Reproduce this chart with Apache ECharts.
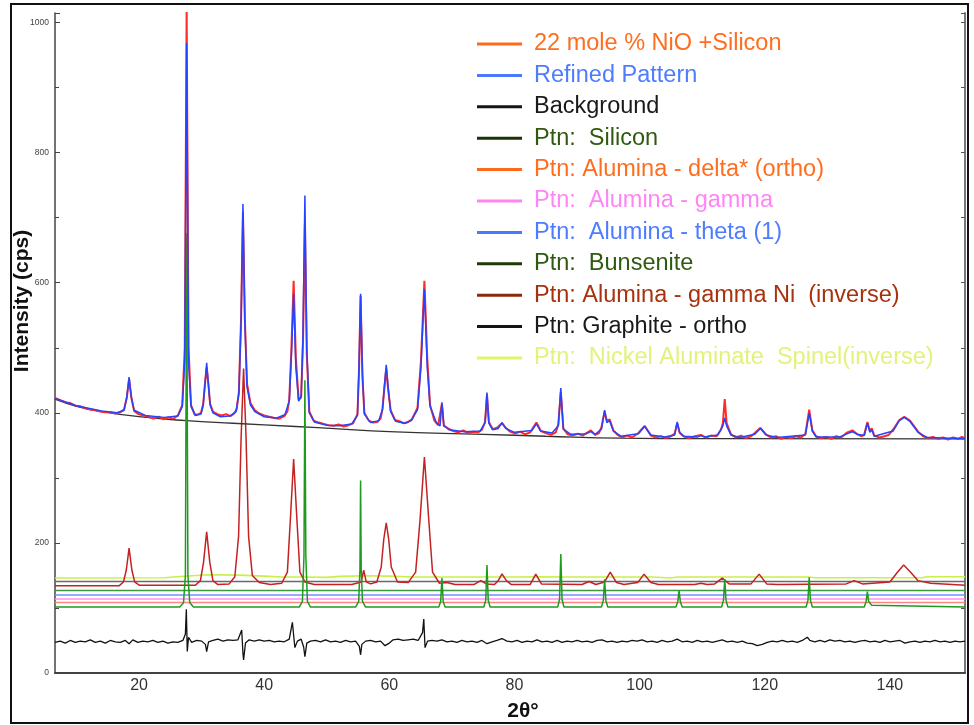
<!DOCTYPE html>
<html>
<head>
<meta charset="utf-8">
<script src="https://cdn.jsdelivr.net/npm/echarts@6/dist/echarts.min.js"></script>
<style>html,body{margin:0;padding:0;background:#fff}#c{width:974px;height:725px}</style>
</head>
<body>
<div id="c"></div>
<script>
// ---- data (2θ in degrees, intensity in cps) ----
const observed = [[6.56,423],[7.5,419],[8.3,416],[9,415],[9.8,411],[10.6,410],[11.4,407],[12.2,405],[13,404],[13.8,402],[14.6,401],[15.4,401],[16.2,399],[17,401],[17.6,405],[18.05,424],[18.4,452],[18.75,424],[19.2,403],[19.9,398],[20.7,396],[21.5,394],[22.3,391],[23.1,394],[23.9,390],[24.7,393],[25.5,391],[26.2,396],[26.9,412],[27.3,500],[27.6,1020],[27.9,500],[28.3,412],[28.9,397],[29.5,398],[29.9,400],[30.25,414],[30.5,442],[30.8,470],[31.1,442],[31.35,414],[31.8,402],[32.5,398],[33.2,396],[33.9,398],[34.6,395],[35.2,399],[35.6,406],[35.95,432],[36.3,545],[36.6,709],[36.9,545],[37.25,445],[37.8,415],[38.5,404],[39.2,399],[40,396],[40.8,394],[41.6,392],[42.4,391],[43.2,395],[43.7,402],[44.0,420],[44.35,500],[44.7,603],[45.05,485],[45.5,420],[45.9,424],[46.2,510],[46.5,690],[46.8,490],[47.2,402],[47.9,388],[48.7,385],[49.5,383],[50.3,381],[51.1,380],[51.9,382],[52.7,379],[53.5,381],[54.2,384],[54.9,398],[55.15,465],[55.4,580],[55.7,455],[56,400],[56.7,388],[57.4,385],[58.1,386],[58.6,391],[58.9,406],[59.2,438],[59.5,468],[59.8,436],[60.2,404],[60.9,389],[61.6,387],[62.3,384],[63.0,386],[63.6,390],[64.5,408],[65.05,480],[65.6,603],[66.05,485],[66.5,412],[67.2,388],[67.8,381],[68.1,382],[68.4,414],[68.7,380],[69.4,376],[70.2,372],[71,370],[71.8,373],[72.6,369],[73.4,371],[74.2,370],[74.8,374],[75.3,386],[75.6,428],[75.9,386],[76.5,375],[77.2,377],[78.0,384],[78.6,377],[79.3,371],[80.1,368],[80.9,371],[81.7,367],[82.5,370],[83.5,385],[84.2,372],[85,369],[85.8,366],[86.6,370],[87.0,382],[87.4,432],[87.8,376],[88.5,367],[89.3,365],[90.1,368],[90.9,365],[91.5,369],[92.2,373],[92.9,366],[93.5,369],[93.9,378],[94.4,402],[94.75,388],[95.2,390],[95.8,373],[96.5,366],[97.2,362],[98,365],[98.8,362],[99.8,369],[100.8,380],[101.8,365],[102.6,362],[103.4,364],[104.2,361],[105,364],[105.6,368],[106,384],[106.4,369],[107.2,363],[108,361],[108.8,364],[109.8,366],[110.6,362],[111.4,365],[112.3,364],[113.0,374],[113.3,384],[113.6,421],[113.9,384],[114.6,367],[115.4,362],[116.2,365],[117,361],[117.8,364],[118.4,369],[119.3,377],[120.2,367],[121,362],[121.8,364],[122.6,360],[123.4,363],[124.2,361],[125,364],[125.8,362],[126.5,368],[127.1,405],[127.6,373],[128.2,364],[129,361],[129.8,363],[130.6,360],[131.4,364],[132.2,362],[133.2,370],[134.0,373],[134.8,367],[135.5,364],[135.9,367],[136.4,386],[136.8,372],[137.1,376],[137.5,365],[138.3,362],[139.1,364],[139.8,366],[140.5,374],[141.5,389],[142.3,394],[143.2,388],[144.5,371],[145.3,364],[146.1,361],[146.9,363],[147.7,360],[148.5,362],[149.3,359],[150.1,362],[150.9,360],[151.5,363],[152,361]];

const refined = [[6.56,422],[10,411],[14,403],[16.5,400],[17.6,404],[18.05,425],[18.4,455],[18.75,425],[19.2,404],[21,396],[24,393],[26.2,395],[26.9,410],[27.3,480],[27.6,968],[27.9,480],[28.3,410],[29,396],[29.9,398],[30.25,412],[30.5,440],[30.8,477],[31.1,440],[31.35,412],[31.8,400],[33,394],[34.5,395],[35.5,402],[35.95,430],[36.3,540],[36.6,721],[36.9,540],[37.25,440],[37.8,412],[38.5,402],[40,394],[42,392],[43.3,397],[44.0,418],[44.35,490],[44.7,583],[45.05,470],[45.5,418],[45.9,425],[46.2,520],[46.5,734],[46.8,500],[47.2,400],[48,386],[50,381],[52,380],[54,383],[54.9,396],[55.15,470],[55.4,583],[55.7,460],[56,398],[57,385],[58.3,388],[58.9,405],[59.2,440],[59.5,474],[59.8,440],[60.2,402],[61,387],[62.5,384],[63.5,388],[64.5,405],[65.05,470],[65.6,590],[66.05,470],[66.5,410],[67.5,385],[68.1,380],[68.4,416],[68.7,381],[69.5,374],[72,371],[74.5,372],[75.3,385],[75.6,431],[75.9,384],[76.5,374],[77.4,376],[78.0,385],[78.6,376],[80,370],[82.8,373],[83.5,383],[84.2,372],[86,369],[87.0,380],[87.4,438],[87.8,375],[89,367],[91.5,368],[92.2,371],[92.9,367],[93.9,375],[94.4,404],[94.75,385],[95.2,388],[95.8,372],[97,364],[99.8,368],[100.8,379],[101.8,366],[104,363],[105.6,366],[106,386],[106.4,370],[107,364],[109.3,363],[109.8,365],[110.3,363],[112.5,366],[113.3,380],[113.6,392],[113.9,380],[114.6,366],[116,362],[118.4,367],[119.3,376],[120.2,366],[122,362],[126.5,366],[127.1,400],[127.6,372],[128.2,363],[132,363],[133.2,368],[134.0,371],[134.8,367],[135.9,365],[136.4,384],[136.8,370],[137.1,374],[137.5,364],[140.5,372],[141.5,388],[142.3,393],[143.2,387],[144.5,370],[146,362],[152,360]];

const background = [[6.56,421],[10,410],[14,402],[20,394],[27.6,388],[35,384],[45,379],[50.6,376],[60,371],[75,367],[85,364],[97,361],[110,360.3],[152,359.8]];

const difference = [[6.56,47],[7.4,49],[8.2,46],[9,50],[9.8,47],[10.6,49],[11.4,48],[12.2,51],[13,47],[13.8,49],[14.6,46],[15.4,50],[16.2,48],[17,47],[17.8,50],[18.4,45],[19,51],[19.8,47],[20.6,49],[21.4,48],[22.2,50],[23,47],[23.8,49],[24.6,46],[25.4,48],[26.2,47],[27.0,50],[27.4,60],[27.55,98],[27.7,33],[27.9,55],[28.4,47],[29.2,50],[30,49],[30.6,44],[30.8,33],[31.1,48],[31.8,50],[32.6,52],[33.4,49],[34.2,51],[35,50],[35.8,51],[36.4,66],[36.6,30],[36.7,20],[37,46],[37.6,51],[38.4,49],[39.2,51],[40,49],[40.8,50],[41.6,48],[42.4,49],[43.2,48],[44.0,52],[44.5,78],[44.7,58],[44.9,39],[45.3,49],[45.9,52],[46.3,40],[46.5,25],[46.8,46],[47.4,49],[48.2,50],[49,48],[49.8,51],[50.6,48],[51.4,49],[52.2,47],[53,50],[53.8,48],[54.6,49],[55.2,41],[55.4,28],[55.6,44],[56.2,49],[57,50],[57.8,48],[58.6,49],[59.3,42],[59.6,39],[60,46],[60.6,51],[61.4,52],[62.2,50],[63,51],[63.8,52],[64.6,50],[65.3,62],[65.5,83],[65.7,39],[66.1,49],[66.8,50],[67.6,49],[68.4,51],[69.2,48],[70,49],[70.8,47],[71.6,50],[72.4,48],[73.2,49],[74,47],[74.8,50],[75.6,45],[76.4,48],[77.2,50],[78,53],[78.8,49],[79.6,48],[80.4,50],[81.2,47],[82,49],[82.8,48],[83.6,51],[84.4,48],[85.2,49],[86,47],[86.8,50],[87.6,47],[88.4,49],[89.2,48],[90,50],[90.8,48],[91.6,49],[92.4,47],[93.2,50],[94,51],[94.8,48],[95.6,49],[96.4,47],[97.2,49],[98,48],[98.8,50],[99.6,49],[100.4,51],[101.2,48],[102,49],[102.8,47],[103.6,50],[104.4,48],[105.2,49],[106,52],[106.8,48],[107.6,49],[108.4,47],[109.2,50],[110,48],[110.8,49],[111.6,47],[112.4,49],[113.2,51],[114,48],[114.8,49],[115.6,47],[116.4,49],[117.2,46],[118,45],[118.8,42],[119.6,44],[120.4,47],[121.2,49],[122,48],[122.8,50],[123.6,48],[124.4,49],[125.2,47],[126,50],[126.8,55],[127.2,50],[128,48],[128.8,50],[129.6,48],[130.4,51],[131.2,49],[132,50],[132.8,48],[133.6,49],[134.4,47],[135.2,49],[136,50],[136.8,48],[137.6,49],[138.4,47],[139.2,50],[140,48],[140.8,49],[141.6,50],[142.4,46],[143.2,48],[144,49],[144.8,47],[145.6,49],[146.4,48],[147.2,50],[148,48],[148.8,49],[149.6,47],[150.4,49],[151.2,48],[152,49]];

const silicon = [[6.56,101.4],[26.5,101.4],[27.1,108],[27.4,150],[27.6,676],[27.8,150],[28.1,108],[28.7,101.4],[45.6,101.4],[46.1,110],[46.35,180],[46.5,450],[46.65,180],[46.9,110],[47.4,101.4],[54.6,101.4],[55.1,110],[55.3,160],[55.4,296],[55.5,160],[55.7,110],[56.2,101.4],[67.9,101.4],[68.2,110],[68.4,146],[68.6,110],[68.9,101.4],[75.1,101.4],[75.4,112],[75.6,166],[75.8,112],[76.1,101.4],[86.9,101.4],[87.2,113],[87.4,183],[87.6,113],[87.9,101.4],[93.9,101.4],[94.2,112],[94.4,144],[94.6,112],[94.9,101.4],[105.8,101.4],[106.1,110],[106.3,127],[106.5,110],[106.8,101.4],[113.1,101.4],[113.4,112],[113.6,144],[113.8,112],[114.1,101.4],[126.6,101.4],[126.9,112],[127.1,147],[127.3,112],[127.6,101.4],[135.9,101.4],[136.2,110],[136.4,125],[136.6,110],[136.8,112],[137.1,104],[137.4,101.4],[152,101.4]];
const aluminaDelta = [[6.56,108.5],[152,108.5]];
const aluminaGamma = [[6.56,113.7],[152,113.7]];
const aluminaTheta = [[6.56,120],[152,120]];
const bunsenite = [[6.56,127],[152,127]];
const aluminaGammaNi = [[6.56,134],[16.8,134],[17.5,140],[17.95,158],[18.4,192],[18.85,158],[19.3,140],[20,135],[29,135],[29.8,142],[30.3,170],[30.8,217],[31.3,170],[31.8,142],[32.6,136],[34.4,137],[35.3,148],[35.9,210],[36.3,360],[36.7,468],[37.1,360],[37.5,210],[38.1,150],[39.2,139],[41,136],[42.8,138],[43.7,155],[44.2,240],[44.7,329],[45.2,240],[45.7,155],[46.5,140],[48,136],[54,136],[55.5,140],[55.9,158],[56.3,140],[57,137],[58,140],[58.7,163],[59.1,205],[59.5,231],[59.9,205],[60.3,163],[61.3,140],[63,139],[64.2,155],[64.9,235],[65.6,332],[66.3,235],[66.9,155],[68,138],[69.2,139],[70.5,136],[73.5,136],[74.6,142],[75.5,137],[76.8,136],[77.4,142],[78,152.5],[78.7,142],[79.5,136],[82.5,136],[83.4,152],[84.3,137],[90.8,136],[91.9,140.7],[93,136],[94.4,140],[95.3,155],[96.3,139],[97.5,136],[99.7,139],[100.7,152],[101.8,139],[103,136],[108.8,136],[109.8,138],[110.8,136],[112,137],[113.2,146],[114.3,137],[117.8,137],[119.1,152],[120.3,137],[122,136],[133,137],[134.3,142],[135.6,137],[140,140],[141.2,155],[142.2,166],[143.2,156],[144.5,142],[146.5,138],[152,135]];
const graphite = [[6.56,140.7],[152,140.7]];
const spinel = [[6.56,146],[24,146.5],[26,148],[31,151],[36,150.5],[40,149],[43,147.5],[46,147.5],[50,147],[52,148.5],[56,149.5],[60,149],[64,147.5],[80,147.5],[84,148],[88,147.5],[102,147.5],[105,146],[106,147.5],[127,147.5],[128,146.5],[145,146.5],[146,148],[152,148]];

const legendNames = ['22 mole % NiO +Silicon','Refined Pattern','Background','Ptn:  Silicon','Ptn: Alumina - delta* (ortho)','Ptn:  Alumina - gamma','Ptn:  Alumina - theta (1)','Ptn:  Bunsenite','Ptn: Alumina - gamma Ni  (inverse)','Ptn: Graphite - ortho','Ptn:  Nickel Aluminate  Spinel(inverse)'];
const legendIconColors = ['#ff6a1a','#4a78ff','#151515','#1b3208','#ff6a1a','#ff85f0','#4a78ff','#1b3a08','#8a2a0a','#151515','#e2f56a'];
const legendTextColors = ['#ff6d1f','#4d7cff','#1a1a1a','#2f5a0f','#ff6d1f','#ff85f5','#4d7cff','#2f5a0f','#a8320e','#1a1a1a','#e4f27a'];

// ---- chart ----
const FONT = 'Liberation Sans, Arial, sans-serif';
const chart = echarts.init(document.getElementById('c'), null, {renderer: 'canvas'});

function ln(name, data, color, width, z, extra) {
  return Object.assign({
    name: name, type: 'line', data: data, showSymbol: false, symbol: 'none',
    lineStyle: {color: color, width: width}, itemStyle: {color: color},
    z: z, animation: false, silent: true
  }, extra || {});
}

const series = [
  ln(legendNames[10], spinel, '#c8f04a', 1.6, 2),
  ln(legendNames[9], graphite, '#6a6a6a', 1.4, 2),
  ln(legendNames[8], aluminaGammaNi, '#c42222', 1.5, 3),
  ln(legendNames[7], bunsenite, '#3c9a3c', 1.5, 2),
  ln(legendNames[6], aluminaTheta, '#7090ff', 1.5, 2),
  ln(legendNames[5], aluminaGamma, '#ff90f5', 1.5, 2),
  ln(legendNames[4], aluminaDelta, '#ff8585', 1.5, 2),
  ln(legendNames[3], silicon, '#1f9a1f', 1.5, 4),
  ln('Difference', difference, '#111111', 1.3, 3),
  ln(legendNames[2], background, '#333333', 1.3, 3, {smooth: true}),
  ln(legendNames[0], observed, '#ff2a2a', 2, 4),
  ln(legendNames[1], refined, '#2444ff', 1.5, 5)
];

const legendData = legendNames.map((n, i) => ({
  name: n,
  itemStyle: {color: legendIconColors[i]},
  textStyle: {color: legendTextColors[i]}
}));

chart.setOption({
  animation: false,
  backgroundColor: '#ffffff',
  grid: {left: 55, right: 9, top: 13, bottom: 52, containLabel: false, outerBoundsMode: 'none'},
  legend: {
    data: legendData, orient: 'vertical', left: 477, top: 32, padding: 0,
    icon: 'rect', itemWidth: 45, itemHeight: 3, itemGap: 7.4,
    selectedMode: false,
    textStyle: {fontFamily: FONT, fontSize: 23.5, lineHeight: 24, padding: [0, 0, 0, 7]}
  },
  xAxis: [{
    type: 'value', position: 'bottom', min: 6.56, max: 152, splitNumber: 7,
    name: '2θ°', nameLocation: 'middle', nameGap: 28, nameMoveOverlap: false,
    nameTextStyle: {fontFamily: FONT, fontSize: 21, fontWeight: 'bold', color: '#111', padding: [0, 0, 0, 26]},
    axisLine: {show: true, lineStyle: {color: '#444', width: 1.5}},
    axisTick: {show: false},
    splitLine: {show: false},
    axisLabel: {fontFamily: FONT, fontSize: 16, color: '#333', margin: 5, showMinLabel: false, showMaxLabel: false}
  }, {
    type: 'value', position: 'top', min: 6.56, max: 152,
    axisLine: {show: true, lineStyle: {color: '#333', width: 1.5}},
    axisTick: {show: false}, axisLabel: {show: false}, splitLine: {show: false}
  }],
  yAxis: [{
    type: 'value', position: 'left', min: 0, max: 1014.7, interval: 200,
    name: 'Intensity (cps)', nameLocation: 'middle', nameGap: 22, nameMoveOverlap: false,
    nameTextStyle: {fontFamily: FONT, fontSize: 21, fontWeight: 'bold', color: '#111', padding: [0, 0, 0, 84]},
    axisLine: {show: true, lineStyle: {color: '#444', width: 1.5}},
    axisTick: {show: true, inside: true, length: 5, lineStyle: {color: '#444'}},
    minorTick: {show: true, splitNumber: 2, length: 4, lineStyle: {color: '#444'}},
    splitLine: {show: false},
    axisLabel: {fontFamily: FONT, fontSize: 8.5, color: '#444', margin: 6, showMaxLabel: false,
      formatter: v => String(v)}
  }, {
    type: 'value', position: 'right', min: 0, max: 1014.7, interval: 100,
    axisLine: {show: true, lineStyle: {color: '#777', width: 2}},
    axisTick: {show: true, inside: true, length: 4, lineStyle: {color: '#555'}},
    axisLabel: {show: false}, splitLine: {show: false}
  }],
  graphic: [{
    type: 'rect', shape: {x: 11, y: 4, width: 957, height: 719},
    style: {fill: 'none', stroke: '#111', lineWidth: 2}, silent: true, z: 100
  }],
  series: series
});
</script>
</body>
</html>
